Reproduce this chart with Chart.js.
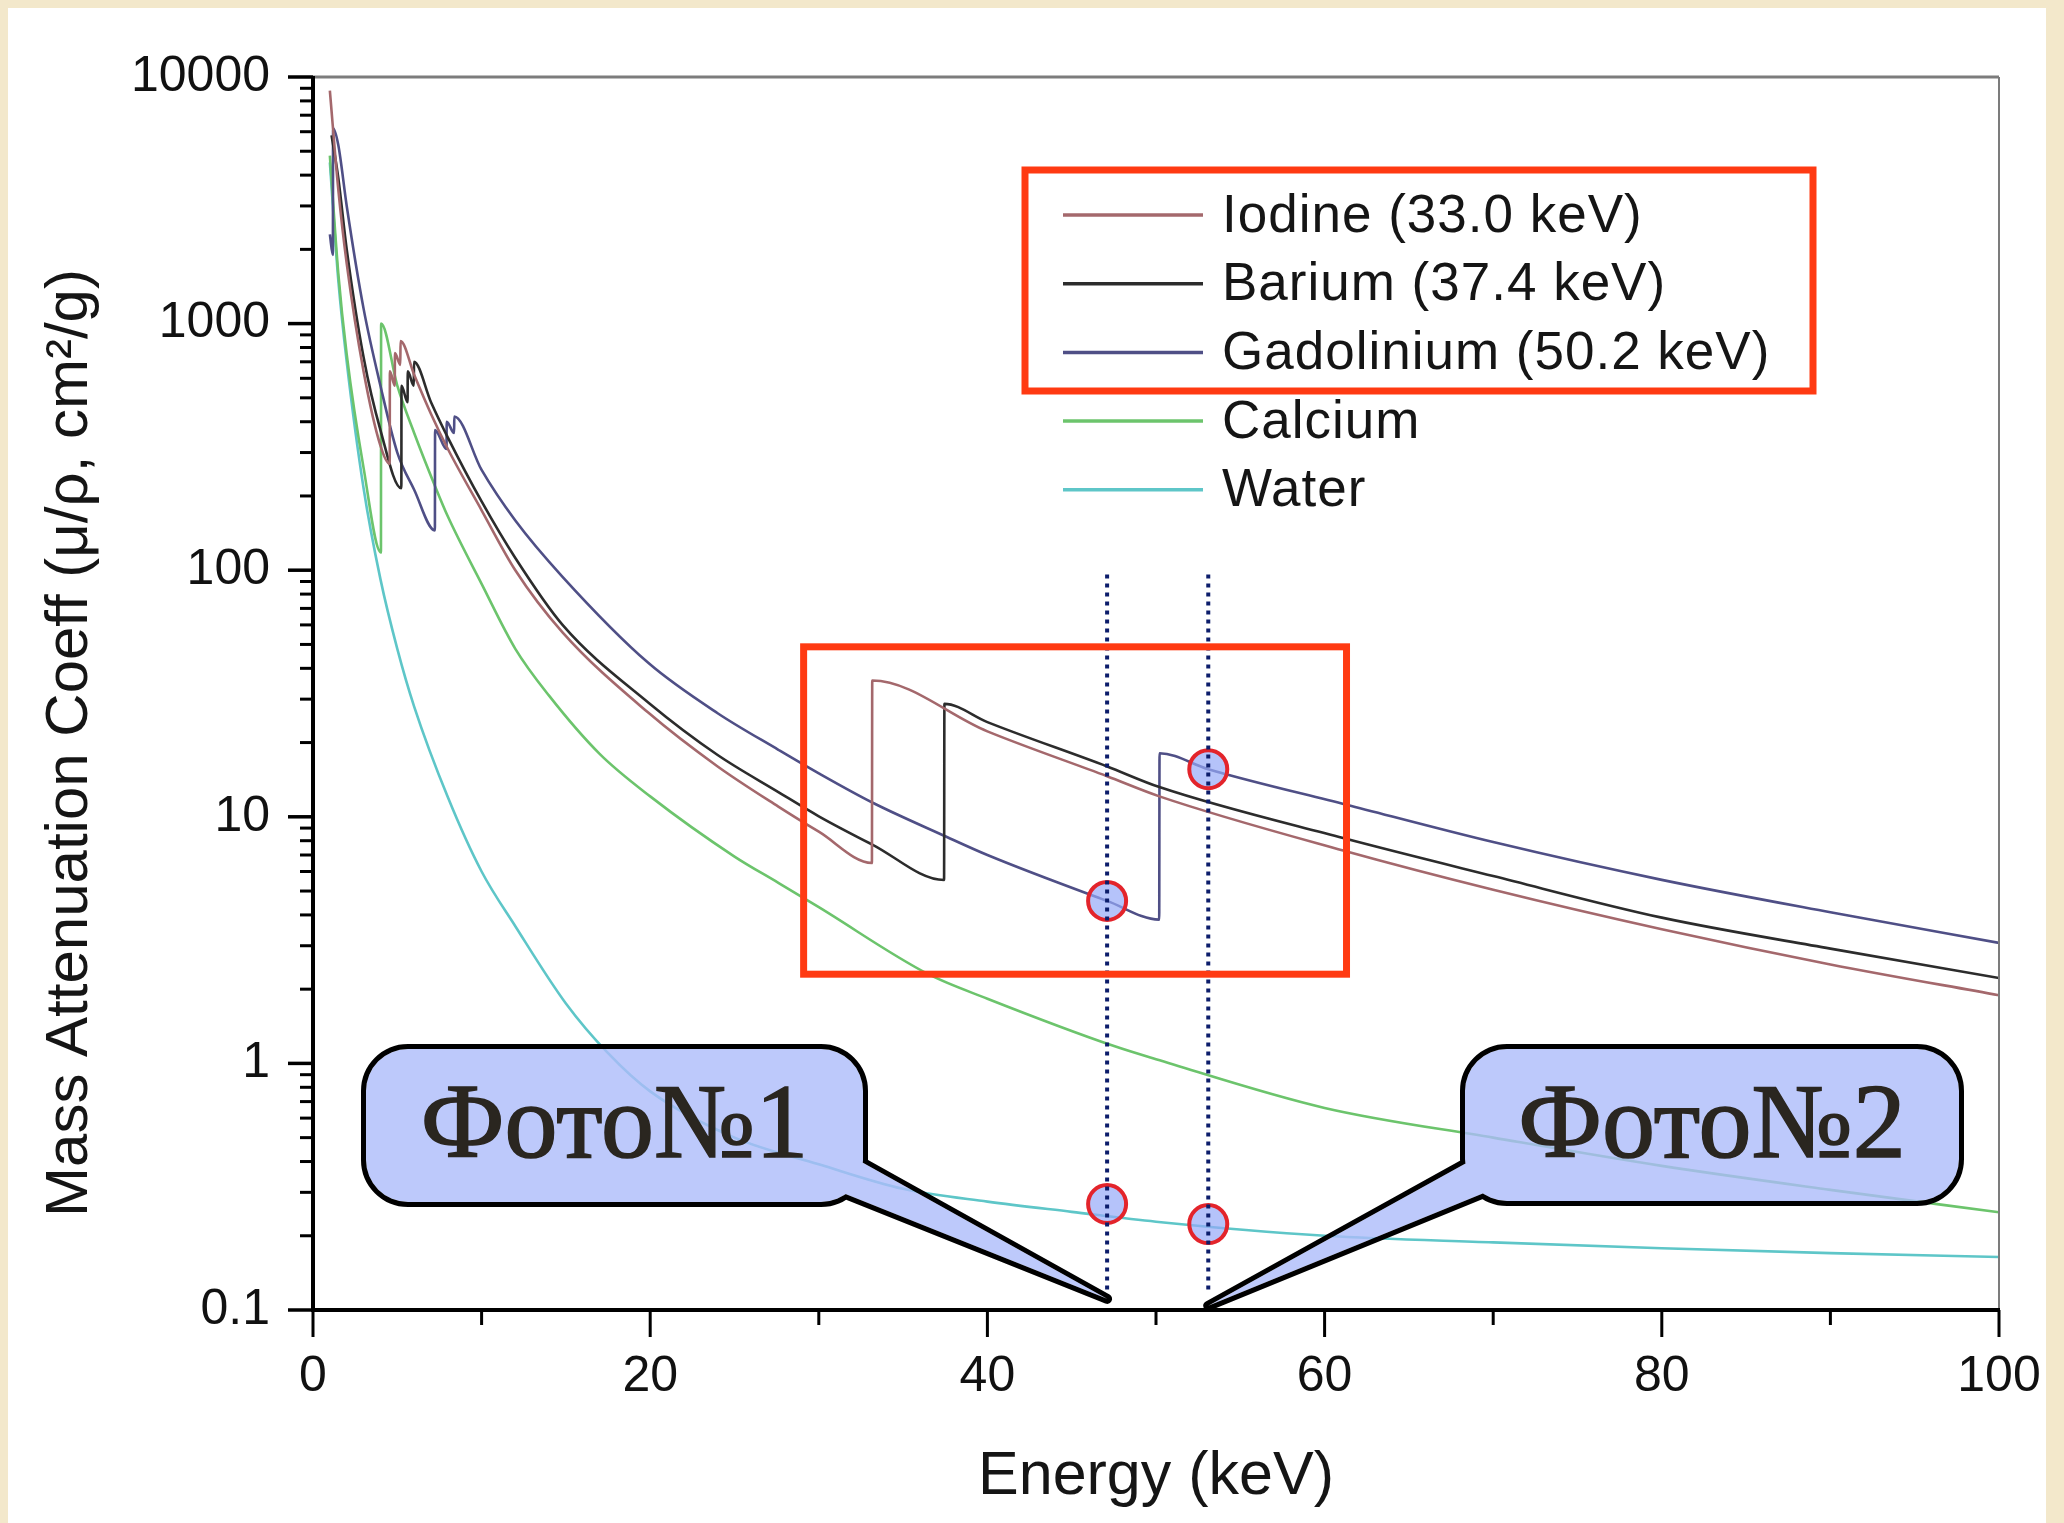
<!DOCTYPE html>
<html lang="ru">
<head>
<meta charset="utf-8">
<title>Mass Attenuation Coeff vs Energy</title>
<script src="https://cdn.jsdelivr.net/npm/chart.js@4.4.1/dist/chart.umd.min.js"></script>
<style>
  html, body { margin: 0; padding: 0; background: #f3e8cb; overflow: hidden; }
  #sheet { position: absolute; left: 8px; top: 8px; width: 2038px; height: 1515px; background: #fff; }
  #plot  { position: absolute; left: 0; top: 0; }
</style>
</head>
<body>
<div id="sheet"></div>
<canvas id="plot" width="2064" height="1523"></canvas>
<script>
/* ── Data: energy (keV) / mass attenuation (cm²/g) ── */
const iodineKeV  = [1.0, 1.5, 2, 3, 4, 4.55, 4.56, 4.85, 4.86, 5.18, 5.19, 6, 7, 8, 10, 12, 14.8, 19.9, 24, 27.6, 30, 33.15, 33.17, 40, 47.1, 50.2, 61.1, 70, 80, 90, 100];
const iodineMu   = [8800, 3500, 1750, 640, 320, 270, 640, 560, 760, 680, 850, 620, 430, 310, 175, 100, 56, 26.4, 16.0, 11.0, 8.7, 6.5, 35.7, 22.2, 14.6, 12.1, 7.3, 5.06, 3.5, 2.52, 1.89];

const bariumKeV  = [1.1, 1.5, 2, 3, 4, 5.24, 5.25, 5.61, 5.62, 5.98, 5.99, 7, 8, 10, 12, 14.8, 19.9, 24, 27.6, 30, 33.2, 37.43, 37.45, 40, 47.1, 50.2, 61.1, 70, 80, 90, 100];
const bariumMu   = [5800, 3900, 2000, 730, 370, 215, 560, 480, 640, 560, 700, 480, 345, 190, 112, 60, 29, 17.8, 12.6, 10.05, 7.7, 5.54, 28.7, 24.2, 16.0, 13.2, 8.2, 5.75, 3.9, 2.92, 2.22];

const gadoKeV    = [1.0, 1.18, 1.19, 1.5, 2, 3, 4, 5, 6, 7.23, 7.24, 7.92, 7.93, 8.37, 8.38, 10, 12, 14.8, 19.9, 24, 27.6, 30, 33.2, 37.4, 40, 47.1, 50.19, 50.21, 53.1, 61.3, 70, 80, 90, 100];
const gadoMu     = [2300, 1900, 6200, 5300, 3000, 1150, 560, 300, 212, 145, 370, 310, 400, 360, 420, 255, 159, 94, 42, 26.3, 18.7, 15.0, 11.4, 8.4, 7.0, 4.56, 3.83, 18.1, 15.6, 11.2, 7.9, 5.55, 4.1, 3.08];

const calciumKeV = [1.0, 1.5, 2, 3, 4.03, 4.04, 5, 6, 7.3, 8, 10, 12, 14, 17, 20, 25, 27.6, 30, 36.5, 40, 47.6, 50, 60, 70, 80, 90, 100];
const calciumMu  = [4800, 1600, 750, 260, 118, 1000, 560, 360, 214, 165, 88, 48, 31, 18, 12.1, 6.9, 5.4, 4.3, 2.3, 1.83, 1.17, 1.04, 0.66, 0.5, 0.384, 0.307, 0.249];

const waterKeV   = [1.0, 1.5, 2, 3, 4, 5, 6, 8, 10, 12, 15, 17.5, 20, 25, 30, 35, 40, 45, 50, 60, 70, 80, 90, 100];
const waterMu    = [4500, 1500, 700, 215, 92, 48, 28, 12, 6.0, 3.6, 1.75, 1.1, 0.77, 0.5, 0.39, 0.31, 0.275, 0.25, 0.228, 0.20, 0.188, 0.178, 0.17, 0.164];

// marked points and the two dotted cursors (Фото№1 / Фото№2)
const cursorKeV  = [47.1, 53.1];
const cursorMu   = [96, 0.116];
const markerKeV  = [47.1, 53.1, 47.1, 53.1];
const markerMu   = [4.56, 15.6, 0.269, 0.223];
const tipMu      = [0.111, 0.104];
const calloutText = ["Фото№1", "Фото№2"];

// highlighted K-edge region
const boxKeV = [29.1, 61.3];
const boxMu  = [2.30, 48.9];

// axes
const xMajorTicks = [0, 20, 40, 60, 80, 100];
const xMinorTicks = [10, 30, 50, 70, 90];
const xTickLabels = ["0", "20", "40", "60", "80", "100"];
const yMajorTicks = [0.1, 1, 10, 100, 1000, 10000];
const yTickLabels = ["0.1", "1", "10", "100", "1000", "10000"];
const yMinorTicks = [];
yMajorTicks.slice(0, -1).forEach(d => { for (let k = 2; k <= 9; k++) yMinorTicks.push(+(d * k).toPrecision(3)); });

const RED  = "#ff3a12";
const SANS = "'Liberation Sans', Arial, sans-serif";
const SERIF = "'Liberation Serif', 'DejaVu Serif', serif";

const pts = (xs, ys) => xs.map((x, i) => ({ x, y: ys[i] }));

function curve(label, xs, ys, color) {
  return {
    label, data: pts(xs, ys), borderColor: color, borderWidth: 2.6,
    pointRadius: 0, fill: false, cubicInterpolationMode: "monotone", order: 3, legend: true
  };
}

function cursor(k) {
  return {
    data: pts([cursorKeV[k], cursorKeV[k]], cursorMu), borderColor: "#0c1d6b", borderWidth: 4,
    borderDash: [4, 5], borderCapStyle: "butt", pointRadius: 0, fill: false, order: 1
  };
}

const datasets = [
  curve("Iodine (33.0 keV)",     iodineKeV,  iodineMu,  "#a4686c"),
  curve("Barium (37.4 keV)",     bariumKeV,  bariumMu,  "#2c2c2c"),
  curve("Gadolinium (50.2 keV)", gadoKeV,    gadoMu,    "#4f4f86"),
  curve("Calcium",               calciumKeV, calciumMu, "#6cc46c"),
  curve("Water",                 waterKeV,   waterMu,   "#5ec6c8"),
  cursor(0), cursor(1),
  {
    data: pts(markerKeV, markerMu), showLine: false, pointRadius: 19, pointHoverRadius: 19,
    pointBackgroundColor: "rgba(150,170,248,0.7)", pointBorderColor: "#e3242b", pointBorderWidth: 4, order: 2
  }
];

function line(ctx, x0, y0, x1, y1) {
  ctx.beginPath(); ctx.moveTo(x0, y0); ctx.lineTo(x1, y1); ctx.stroke();
}

// triangle oriented clockwise so the union with the rounded box fills cleanly
function tail(a, tip, b) {
  const cross = (tip[0] - a[0]) * (b[1] - a[1]) - (tip[1] - a[1]) * (b[0] - a[0]);
  const [p, q] = cross > 0 ? [a, b] : [b, a];
  const t = new Path2D();
  t.moveTo(p[0], p[1]); t.lineTo(tip[0], tip[1]); t.lineTo(q[0], q[1]); t.closePath();
  return t;
}

function drawCallout(ctx, box, a, b, tip, text) {
  const p = new Path2D();
  p.roundRect(box.l, box.t, box.r - box.l, box.b - box.t, 42);
  p.addPath(tail(a, tip, b));
  ctx.fillStyle = "rgba(172,188,250,0.8)";
  ctx.fill(p);
  const off = document.createElement("canvas");
  off.width = ctx.canvas.width; off.height = ctx.canvas.height;
  const o = off.getContext("2d");
  o.lineWidth = 10; o.lineJoin = "round"; o.strokeStyle = "#000";
  o.stroke(p);
  o.globalCompositeOperation = "destination-out";
  o.fill(p);
  ctx.drawImage(off, 0, 0);
  ctx.fillStyle = "#2a2620"; ctx.strokeStyle = "#2a2620"; ctx.lineWidth = 1.6;
  ctx.font = "106px " + SERIF;
  ctx.textAlign = "center"; ctx.textBaseline = "alphabetic";
  const cx = (box.l + box.r) / 2;
  ctx.fillText(text, cx, 1157);
  ctx.strokeText(text, cx, 1157);
}

const decorations = {
  id: "decorations",
  afterDatasetsDraw(chart) {
    const { ctx, chartArea: a, scales: { x, y } } = chart;
    ctx.save();

    // K-edge region box
    const bx0 = x.getPixelForValue(boxKeV[0]), bx1 = x.getPixelForValue(boxKeV[1]);
    const by0 = y.getPixelForValue(boxMu[1]),  by1 = y.getPixelForValue(boxMu[0]);
    ctx.strokeStyle = RED; ctx.lineWidth = 7;
    ctx.strokeRect(bx0, by0, bx1 - bx0, by1 - by0);

    // frame
    ctx.lineCap = "butt";
    ctx.strokeStyle = "#7c7c7c"; ctx.lineWidth = 3;
    line(ctx, a.left, a.top, a.right, a.top);
    ctx.lineWidth = 2;
    line(ctx, a.right, a.top, a.right, a.bottom);
    ctx.strokeStyle = "#000"; ctx.lineWidth = 4;
    line(ctx, a.left, a.top - 1, a.left, a.bottom + 2);
    line(ctx, a.left, a.bottom, a.right + 1, a.bottom);

    // ticks
    ctx.lineWidth = 3.5;
    yMajorTicks.forEach(v => { const py = y.getPixelForValue(v); line(ctx, a.left - 25, py, a.left, py); });
    ctx.lineWidth = 3;
    yMinorTicks.forEach(v => { const py = y.getPixelForValue(v); line(ctx, a.left - 13, py, a.left, py); });
    xMajorTicks.forEach(v => { const px = x.getPixelForValue(v); line(ctx, px, a.bottom, px, a.bottom + 27); });
    xMinorTicks.forEach(v => { const px = x.getPixelForValue(v); line(ctx, px, a.bottom, px, a.bottom + 15); });

    // axis titles
    ctx.fillStyle = "#151515";
    ctx.font = "61px " + SANS;
    ctx.textAlign = "center"; ctx.textBaseline = "alphabetic";
    ctx.fillText("Energy (keV)", (a.left + a.right) / 2, 1494);
    ctx.save();
    ctx.translate(87, 743); ctx.rotate(-Math.PI / 2);
    ctx.font = "60px " + SANS;
    ctx.fillText("Mass Attenuation Coeff (μ/ρ, cm²/g)", 0, 0);
    ctx.restore();

    // legend
    ctx.font = "53px " + SANS;
    ctx.letterSpacing = "1px";
    ctx.textAlign = "left"; ctx.textBaseline = "middle";
    chart.data.datasets.filter(d => d.legend).forEach((d, i) => {
      const ly = 215 + i * 68.7;
      ctx.strokeStyle = d.borderColor; ctx.lineWidth = 3.5;
      line(ctx, 1063, ly, 1203, ly);
      ctx.fillStyle = "#151515";
      ctx.fillText(d.label, 1222, ly + 2);
    });
    ctx.letterSpacing = "0px";
    ctx.strokeStyle = RED; ctx.lineWidth = 7;
    ctx.strokeRect(1025, 170, 788, 221);

    // callouts pointing at the cursor feet
    const tip1 = [x.getPixelForValue(cursorKeV[0]), y.getPixelForValue(tipMu[0])];
    const tip2 = [x.getPixelForValue(cursorKeV[1]), y.getPixelForValue(tipMu[1])];
    drawCallout(ctx, { l: 366, t: 1049, r: 863, b: 1202 }, [858, 1160], [843, 1193], tip1, calloutText[0]);
    drawCallout(ctx, { l: 1465, t: 1049, r: 1959, b: 1201 }, [1470, 1161], [1484, 1193], tip2, calloutText[1]);

    ctx.restore();
  }
};

function noPadding(s) {
  s.paddingLeft = 0; s.paddingRight = 0; s.paddingTop = 0; s.paddingBottom = 0;
}

Chart.defaults.font.family = SANS;

new Chart(document.getElementById("plot"), {
  type: "line",
  data: { datasets },
  options: {
    responsive: false,
    animation: false,
    events: [],
    layout: { padding: { left: 73, top: 77, right: 65, bottom: 63 } },
    plugins: { legend: { display: false }, tooltip: { enabled: false } },
    scales: {
      x: {
        type: "linear", min: 0, max: 100,
        afterBuildTicks: s => { s.ticks = xMajorTicks.map(v => ({ value: v })); },
        afterFit: s => { s.height = 150; noPadding(s); },
        grid: { display: false, drawTicks: false },
        border: { display: false },
        ticks: {
          callback: (v, i) => xTickLabels[i], autoSkip: false, maxRotation: 0,
          padding: 37, color: "#111", font: { size: 50, lineHeight: 1.2 }
        }
      },
      y: {
        type: "logarithmic", min: 0.1, max: 10000,
        afterBuildTicks: s => { s.ticks = yMajorTicks.map(v => ({ value: v })); },
        afterFit: s => { s.width = 240; noPadding(s); },
        grid: { display: false, drawTicks: false },
        border: { display: false },
        ticks: {
          callback: (v, i) => yTickLabels[i], autoSkip: false,
          padding: 43, color: "#111", font: { size: 50, lineHeight: 1.2 }
        }
      }
    }
  },
  plugins: [decorations]
});
</script>
</body>
</html>
